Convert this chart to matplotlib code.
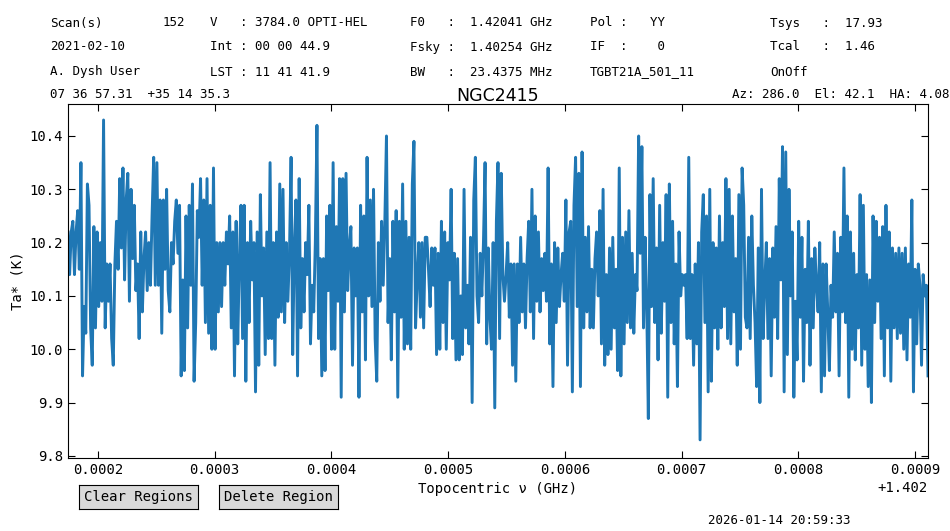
import numpy as np
import matplotlib
matplotlib.use("Agg")
import matplotlib.pyplot as plt

# spectrum left to right (K)
ta_seg1 = [10.22, 10.14, 10.22, 10.24, 10.14, 10.22, 10.26, 10.15, 10.35, 9.95,
           10.08, 10.03, 10.31, 10.27, 10.04, 9.97, 10.23, 10.04, 10.22, 10.08,
           10.20, 10.09, 10.43, 10.04, 10.16, 10.09, 10.16, 10.02, 9.97, 10.16,
           10.24, 10.15, 10.32, 10.19, 10.34, 10.13, 10.28, 10.33, 10.09, 10.30,
           10.17, 10.27, 10.11, 10.16, 10.02, 10.22, 10.07, 10.17, 10.22, 10.11,
           10.20, 10.12, 10.25, 10.36, 10.12, 10.35, 10.12, 10.28, 10.03, 10.28,
           10.15, 10.30, 10.11, 10.07, 10.20, 10.16, 10.24, 10.28, 10.18, 10.27,
           9.95, 10.13, 9.96, 10.25, 10.04, 10.27, 10.12, 10.31, 9.94, 10.05,
           10.26, 10.21, 10.32, 10.12, 10.28, 10.05, 10.32, 10.03, 10.27, 10.00,
           10.34, 10.00, 10.20, 10.07, 10.20, 10.08, 10.20, 10.12, 10.22, 10.16,
           10.25, 10.04, 10.22, 9.95, 10.24, 10.01, 10.17]
ta_seg2 = [10.27, 10.02, 10.27, 9.94, 10.20, 10.05, 10.24, 10.13, 10.20, 9.92,
           10.22, 9.97, 10.29, 10.10, 10.19, 9.99, 10.22, 10.02, 10.35, 10.02,
           10.20, 9.97, 10.22, 10.06, 10.31, 10.07, 10.30, 10.05, 10.20, 10.09,
           10.18, 10.36, 9.99, 10.19, 10.28, 9.95, 10.32, 10.04, 10.17, 10.07,
           10.20, 10.14, 10.27, 10.01, 10.12, 10.07, 10.20, 10.42, 10.02, 10.17,
           9.95, 10.17, 9.96, 10.25, 10.11, 10.27, 10.00, 10.35, 10.00, 10.23,
           10.09, 10.32, 9.91, 10.32, 10.07, 10.33, 10.11, 10.19, 10.23, 9.97,
           10.19, 10.10, 10.19, 9.91, 10.27, 10.07, 10.25, 9.98, 10.36, 10.10,
           10.28, 10.08, 10.30, 10.02, 9.94, 10.20, 10.09, 10.24, 10.12, 10.24,
           10.40, 10.05, 10.17, 9.98, 10.24, 10.07, 10.26, 9.91, 10.24, 10.06,
           10.31, 10.00, 10.24, 10.01, 10.21, 10.00, 10.31, 10.39, 10.04, 10.13,
           10.20, 10.06]
ta_seg3 = [10.20, 10.04, 10.21, 10.21, 10.15, 10.08, 10.19, 10.12, 10.19, 9.99,
           10.18, 10.00, 10.24, 10.05, 10.22, 10.00, 10.20, 10.13, 10.30, 10.02,
           10.18, 9.98, 10.17, 9.98, 10.10, 9.99, 10.30, 10.04, 10.12, 10.01,
           10.21, 9.90, 10.28, 10.36, 10.10, 10.05, 10.18, 10.10, 10.20, 10.35,
           10.01, 10.19, 10.06, 10.00, 10.20, 9.89, 10.24, 10.35, 10.02, 10.33,
           10.14, 10.09, 10.14, 10.20, 10.06, 10.16, 9.97, 10.16, 9.94, 10.16,
           10.05, 10.21, 10.07, 10.16, 10.04, 10.17, 10.24, 10.07, 10.30, 10.02,
           10.25, 10.09, 10.22, 10.07, 10.17, 10.11, 10.18, 10.09, 10.34, 10.01,
           10.16, 9.93, 10.20, 10.05, 10.19, 10.08, 10.14, 10.18, 10.09, 10.28,
           9.97, 10.22, 10.24, 9.92, 10.27, 10.36, 10.08, 10.33, 9.93, 10.37,
           10.04, 10.21, 10.07, 10.23, 10.04]
ta_seg4 = [10.15, 10.04, 10.17, 10.22, 10.10, 10.26, 10.01, 10.30, 9.97, 10.14,
           9.99, 10.19, 10.00, 10.21, 10.04, 10.15, 9.96, 10.34, 9.95, 10.21,
           10.01, 10.22, 10.05, 10.26, 10.04, 10.18, 10.03, 10.14, 10.11, 10.40,
           10.18, 10.38, 10.04, 10.21, 10.08, 9.87, 10.29, 10.08, 10.32, 10.05,
           10.19, 9.98, 10.27, 10.03, 10.20, 10.09, 10.29, 9.91, 10.31, 10.05,
           10.24, 10.01, 10.16, 9.93, 10.22, 10.10, 10.14, 10.12, 10.14, 10.02,
           10.36, 10.02, 10.14, 9.97, 10.16, 10.01, 10.20, 9.83, 10.22, 10.29,
           10.05, 10.25, 9.92, 10.30, 9.94, 10.20, 10.04, 10.19, 10.00, 10.25,
           10.04, 10.20, 10.08, 10.32, 10.02, 10.30, 10.01, 10.25, 10.07, 10.17,
           9.97, 10.29, 10.00, 10.34, 10.27, 10.06, 10.04, 10.21, 10.02, 10.25,
           10.12, 10.05, 9.93, 10.19, 9.90, 10.30, 10.02]
ta_seg5 = [10.12, 10.20, 10.02, 10.17, 9.95, 10.19, 10.06, 10.23, 10.02, 10.32,
           10.13, 10.38, 9.92, 10.37, 9.99, 10.30, 10.10, 10.22, 9.91, 10.09,
           9.98, 10.24, 10.06, 10.21, 9.94, 10.15, 10.05, 10.24, 9.97, 10.17,
           10.04, 10.19, 10.12, 10.07, 10.20, 9.92, 10.16, 9.95, 10.16, 10.07,
           9.96, 10.12, 10.06, 10.22, 10.07, 10.18, 9.95, 10.21, 10.07, 10.34,
           10.05, 10.25, 9.91, 10.22, 10.00, 10.18, 9.98, 10.14, 10.04, 10.29,
           9.97, 10.27, 10.00, 10.14, 9.93, 10.13, 9.90, 10.25, 10.05, 10.24,
           10.09, 10.21, 10.02, 10.23, 9.95, 10.27, 10.04, 10.22, 9.94, 10.19,
           10.04, 10.18, 10.02, 10.19, 10.03, 10.18, 10.00, 10.19, 9.98, 10.16,
           10.06, 10.28, 9.92, 10.15, 10.01, 10.16, 10.12, 9.97, 10.14, 10.10,
           10.12, 9.95]

# channel frequency range (GHz), relative to 1.402
f_first = 0.0001743
f_last = 0.000911
f_offset = 1.402

header_rows = [
    ["Scan(s)", "152", "V   : 3784.0 OPTI-HEL", "F0   :  1.42041 GHz", "Pol :   YY", "Tsys   :  17.93"],
    ["2021-02-10", "", "Int : 00 00 44.9", "Fsky :  1.40254 GHz", "IF  :    0", "Tcal   :  1.46"],
    ["A. Dysh User", "", "LST : 11 41 41.9", "BW   :  23.4375 MHz", "TGBT21A_501_11", "OnOff"],
]
coord_text = "07 36 57.31  +35 14 35.3"
azel_text = "Az: 286.0  El: 42.1  HA: 4.08"
source_name = "NGC2415"
stamp_text = "2026-01-14 20:59:33"
button_labels = ["Clear Regions", "Delete Region"]


def main():
    ta = np.array(ta_seg1 + ta_seg2 + ta_seg3 + ta_seg4 + ta_seg5)
    freq = f_offset + np.linspace(f_first, f_last, len(ta))

    mono = "DejaVu Sans Mono"
    fig = plt.figure(figsize=(9.5, 5.31), dpi=100, facecolor="w")
    ax = fig.add_axes([68 / 950, 73 / 531, 860 / 950, 354 / 531])
    ax.plot(freq, ta, color="#1f77b4", lw=2.1)

    ax.set_xlim(f_offset + 0.0001743, f_offset + 0.000911)
    ax.set_ylim(9.796, 10.46)
    ax.set_yticks([9.8, 9.9, 10.0, 10.1, 10.2, 10.3, 10.4])
    ax.set_xticks(f_offset + np.arange(2, 10) * 1e-4)
    ax.ticklabel_format(axis="x", useOffset=f_offset)
    ax.tick_params(direction="in", top=True, right=True, length=5, labelsize=10)
    for lab in ax.get_xticklabels() + ax.get_yticklabels():
        lab.set_family(mono)
    ax.xaxis.get_offset_text().set_family(mono)
    ax.xaxis.get_offset_text().set_fontsize(10)

    ax.set_xlabel("Topocentric \u03bd (GHz)", family=mono, fontsize=10, labelpad=4)
    ax.set_ylabel("Ta* (K)", family=mono, fontsize=10)
    ax.set_title(source_name, fontsize=12.5, pad=2)

    # header block
    col_x = [50, 163, 210, 410, 590, 770]
    row_y = [23, 47, 72]
    for yy, row in zip(row_y, header_rows):
        for xx, txt in zip(col_x, row):
            fig.text(xx / 950, 1 - yy / 531, txt, family=mono, fontsize=9, va="center")
    fig.text(50 / 950, 1 - 95 / 531, coord_text, family=mono, fontsize=9, va="center")
    fig.text(949 / 950, 1 - 95 / 531, azel_text, family=mono, fontsize=9,
             va="center", ha="right")
    fig.text(850 / 950, 1 - 521 / 531, stamp_text, family=mono, fontsize=9,
             va="center", ha="right")

    # region buttons
    for x0, label in zip([79, 219], button_labels):
        bax = fig.add_axes([x0 / 950, 22 / 531, 119 / 950, 24 / 531])
        bax.set_facecolor("#d9d9d9")
        bax.set_xticks([])
        bax.set_yticks([])
        bax.text(0.5, 0.5, label, family=mono, fontsize=10,
                 ha="center", va="center", transform=bax.transAxes)

    fig.savefig("out.png", dpi=100)


if __name__ == "__main__":
    main()
